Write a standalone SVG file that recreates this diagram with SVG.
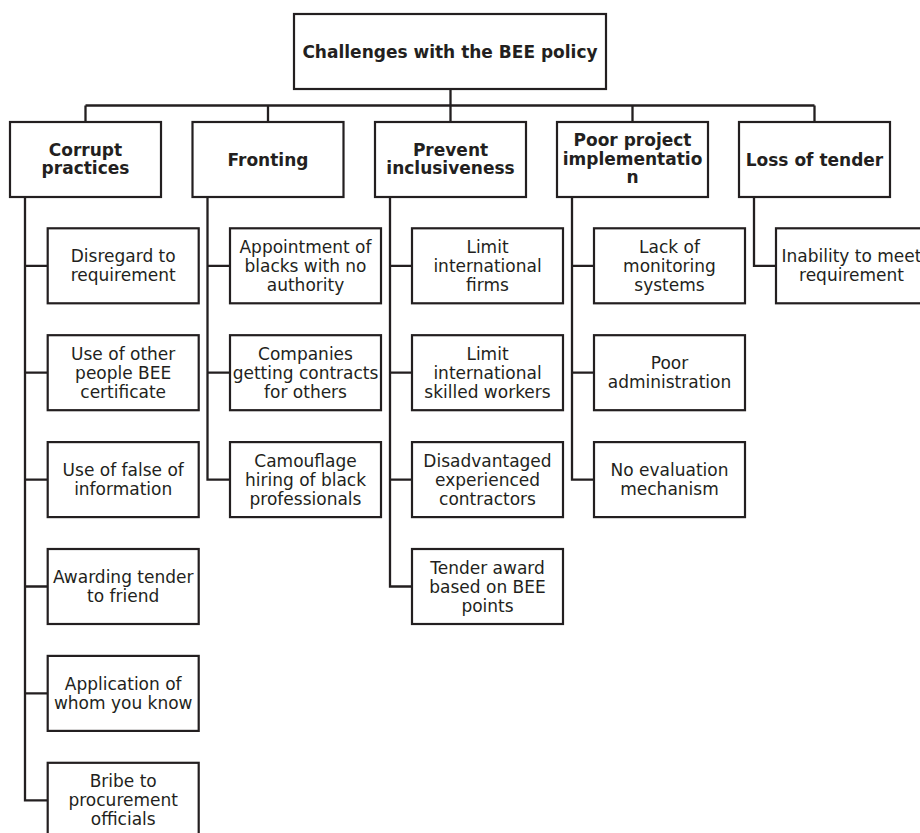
<svg xmlns="http://www.w3.org/2000/svg" width="920" height="833" viewBox="0 0 920 833">
<style>
rect{fill:#fff;stroke:#231f20;stroke-width:2.2}
text{font-family:"DejaVu Sans","Verdana",sans-serif;font-size:17px;fill:#231f20;text-anchor:middle}
.b{font-weight:bold}
#connectors path{fill:none;stroke:#231f20;stroke-width:2.3}
</style>
<rect x="0" y="0" width="920" height="833" style="stroke:none"/>
<g id="connectors">
<path d="M450.5 89V105.5M85.5 105.5H814.5M85.5 105.5V122M268 105.5V122M450.5 105.5V122M632.5 105.5V122M814.5 105.5V122"/>
<path d="M25 197V800.3H47.7M25 265.8H47.7M25 372.7H47.7M25 479.6H47.7M25 586.5H47.7M25 693.4H47.7"/>
<path d="M207.5 197V479.6H230M207.5 265.8H230M207.5 372.7H230"/>
<path d="M390 197V586.5H412M390 265.8H412M390 372.7H412M390 479.6H412"/>
<path d="M572 197V479.6H594M572 265.8H594M572 372.7H594"/>
<path d="M754 197V265.8H776"/>
</g>
<g id="root"><rect x="294" y="14" width="312" height="75"/><text class="b" x="450" y="58.3">Challenges with the BEE policy</text></g>
<g id="h1"><rect x="10" y="122" width="151" height="75"/><text class="b" x="85.5" y="155.5">Corrupt<tspan x="85.5" dy="18.5">practices</tspan></text></g>
<g id="h2"><rect x="192.5" y="122" width="151" height="75"/><text class="b" x="268" y="165.5">Fronting</text></g>
<g id="h3"><rect x="375" y="122" width="151" height="75"/><text class="b" x="450.5" y="155.5">Prevent<tspan x="450.5" dy="18.5">inclusiveness</tspan></text></g>
<g id="h4"><rect x="557" y="122" width="151" height="75"/><text class="b" x="632.5" y="146">Poor project<tspan x="632.5" dy="18.6">implementatio</tspan><tspan x="632.5" dy="18.6">n</tspan></text></g>
<g id="h5"><rect x="739" y="122" width="151" height="75"/><text class="b" x="814.5" y="165.5">Loss of tender</text></g>

<g id="c1a"><rect x="47.7" y="228.3" width="151" height="75"/><text x="123.2" y="262">Disregard to<tspan x="123.2" dy="19">requirement</tspan></text></g>
<g id="c1b"><rect x="47.7" y="335.2" width="151" height="75"/><text x="123.2" y="359.7">Use of other<tspan x="123.2" dy="19">people BEE</tspan><tspan x="123.2" dy="19">certificate</tspan></text></g>
<g id="c1c"><rect x="47.7" y="442.1" width="151" height="75"/><text x="123.2" y="476.1">Use of false of<tspan x="123.2" dy="19">information</tspan></text></g>
<g id="c1d"><rect x="47.7" y="549" width="151" height="75"/><text x="123.2" y="583">Awarding tender<tspan x="123.2" dy="19">to friend</tspan></text></g>
<g id="c1e"><rect x="47.7" y="655.9" width="151" height="75"/><text x="123.2" y="689.9">Application of<tspan x="123.2" dy="19">whom you know</tspan></text></g>
<g id="c1f"><rect x="47.7" y="762.8" width="151" height="75"/><text x="123.2" y="787.3">Bribe to<tspan x="123.2" dy="19">procurement</tspan><tspan x="123.2" dy="19">officials</tspan></text></g>

<g id="c2a"><rect x="230" y="228.3" width="151" height="75"/><text x="305.5" y="252.8">Appointment of<tspan x="305.5" dy="19">blacks with no</tspan><tspan x="305.5" dy="19">authority</tspan></text></g>
<g id="c2b"><rect x="230" y="335.2" width="151" height="75"/><text x="305.5" y="359.7">Companies<tspan x="305.5" dy="19">getting contracts</tspan><tspan x="305.5" dy="19">for others</tspan></text></g>
<g id="c2c"><rect x="230" y="442.1" width="151" height="75"/><text x="305.5" y="466.6">Camouflage<tspan x="305.5" dy="19">hiring of black</tspan><tspan x="305.5" dy="19">professionals</tspan></text></g>

<g id="c3a"><rect x="412" y="228.3" width="151" height="75"/><text x="487.5" y="252.8">Limit<tspan x="487.5" dy="19">international</tspan><tspan x="487.5" dy="19">firms</tspan></text></g>
<g id="c3b"><rect x="412" y="335.2" width="151" height="75"/><text x="487.5" y="359.7">Limit<tspan x="487.5" dy="19">international</tspan><tspan x="487.5" dy="19">skilled workers</tspan></text></g>
<g id="c3c"><rect x="412" y="442.1" width="151" height="75"/><text x="487.5" y="466.6">Disadvantaged<tspan x="487.5" dy="19">experienced</tspan><tspan x="487.5" dy="19">contractors</tspan></text></g>
<g id="c3d"><rect x="412" y="549" width="151" height="75"/><text x="487.5" y="573.5">Tender award<tspan x="487.5" dy="19">based on BEE</tspan><tspan x="487.5" dy="19">points</tspan></text></g>

<g id="c4a"><rect x="594" y="228.3" width="151" height="75"/><text x="669.5" y="252.8">Lack of<tspan x="669.5" dy="19">monitoring</tspan><tspan x="669.5" dy="19">systems</tspan></text></g>
<g id="c4b"><rect x="594" y="335.2" width="151" height="75"/><text x="669.5" y="369.2">Poor<tspan x="669.5" dy="19">administration</tspan></text></g>
<g id="c4c"><rect x="594" y="442.1" width="151" height="75"/><text x="669.5" y="476.1">No evaluation<tspan x="669.5" dy="19">mechanism</tspan></text></g>

<g id="c5a"><rect x="776" y="228.3" width="151" height="75"/><text x="851.5" y="262">Inability to meet<tspan x="851.5" dy="19">requirement</tspan></text></g>
</svg>
